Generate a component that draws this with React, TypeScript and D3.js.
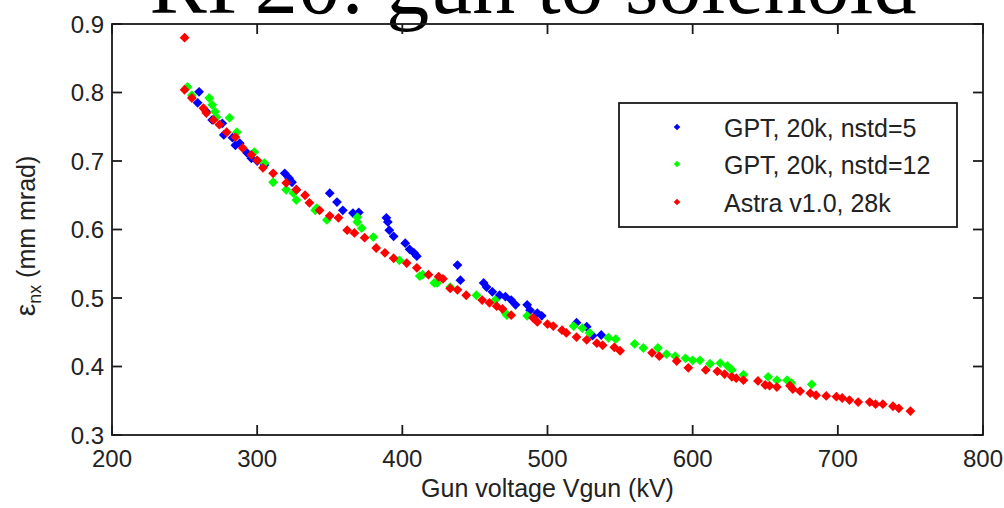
import React from "react";
import * as d3 from "d3";

// Normalized horizontal emittance vs. gun voltage, three simulation runs.
// Each entry: [gun voltage (kV), emittance (mm mrad)]
const gptNstd5: [number, number][] = [
  [259, 0.785], [260, 0.801], [265, 0.772], [269, 0.760], [276, 0.755], [277, 0.738],
  [283, 0.734], [285, 0.723], [288, 0.726], [293, 0.712], [296, 0.704], [300, 0.700],
  [305, 0.694], [319, 0.682], [322, 0.675], [324, 0.669], [327, 0.658], [350, 0.653],
  [355, 0.640], [359, 0.628], [366, 0.624], [370, 0.625], [389, 0.617], [390, 0.611],
  [391, 0.599], [394, 0.590], [402, 0.580], [405, 0.571], [408, 0.566], [410, 0.561],
  [438, 0.548], [440, 0.526], [456, 0.522], [458, 0.516], [462, 0.509], [467, 0.504],
  [471, 0.502], [475, 0.497], [478, 0.490], [486, 0.490], [488, 0.482], [493, 0.478],
  [496, 0.474], [520, 0.464], [527, 0.458], [531, 0.445], [537, 0.446],
];

const gptNstd12: [number, number][] = [
  [252, 0.808], [255, 0.796], [267, 0.792], [269, 0.782], [271, 0.772], [272, 0.764],
  [281, 0.763], [286, 0.742], [298, 0.713], [305, 0.697], [311, 0.669], [320, 0.658],
  [325, 0.653], [327, 0.643], [340, 0.628], [341, 0.631], [348, 0.614], [369, 0.618],
  [369, 0.611], [372, 0.602], [380, 0.589], [398, 0.555], [412, 0.532], [414, 0.534],
  [422, 0.522], [424, 0.522], [433, 0.516], [451, 0.504], [464, 0.497], [471, 0.478],
  [472, 0.475], [486, 0.474], [518, 0.459], [524, 0.456], [529, 0.449], [542, 0.442],
  [547, 0.440], [560, 0.433], [566, 0.427], [576, 0.427], [582, 0.418], [588, 0.415],
  [595, 0.412], [600, 0.409], [605, 0.409], [612, 0.404], [619, 0.405], [624, 0.401],
  [627, 0.395], [635, 0.388], [652, 0.385], [658, 0.380], [665, 0.380], [668, 0.376],
  [682, 0.374],
];

const astra: [number, number][] = [
  [250, 0.880], [250, 0.804], [255, 0.792], [263, 0.777], [265, 0.770], [270, 0.760],
  [274, 0.753], [279, 0.742], [285, 0.735], [290, 0.719], [296, 0.709], [300, 0.701],
  [304, 0.690], [311, 0.682], [320, 0.668], [327, 0.658], [333, 0.650], [336, 0.639],
  [343, 0.628], [350, 0.620], [356, 0.617], [362, 0.599], [367, 0.595], [374, 0.588],
  [382, 0.573], [388, 0.566], [394, 0.558], [403, 0.551], [410, 0.544], [418, 0.534],
  [425, 0.531], [428, 0.528], [433, 0.514], [438, 0.512], [444, 0.504], [455, 0.497],
  [460, 0.493], [465, 0.488], [469, 0.484], [475, 0.475], [490, 0.471], [493, 0.465],
  [500, 0.462], [504, 0.459], [510, 0.453], [513, 0.449], [520, 0.443], [527, 0.439],
  [534, 0.434], [538, 0.431], [546, 0.428], [550, 0.423], [572, 0.420], [577, 0.415],
  [589, 0.408], [597, 0.398], [609, 0.395], [617, 0.393], [622, 0.389], [627, 0.385],
  [630, 0.383], [635, 0.380], [645, 0.379], [650, 0.373], [653, 0.372], [658, 0.370],
  [667, 0.372], [669, 0.367], [674, 0.364], [681, 0.361], [685, 0.358], [692, 0.357],
  [699, 0.356], [703, 0.354], [708, 0.351], [714, 0.348], [722, 0.348], [726, 0.345],
  [731, 0.345], [738, 0.342], [742, 0.339], [750, 0.335],
];

const xTicks = [200, 300, 400, 500, 600, 700, 800];
const yTicks = [0.3, 0.4, 0.5, 0.6, 0.7, 0.8, 0.9];

const seriesNames = ["GPT, 20k, nstd=5", "GPT, 20k, nstd=12", "Astra v1.0, 28k"];
const seriesColors = ["#0000ff", "#00ff00", "#ff0000"];
const seriesData = [gptNstd5, gptNstd12, astra];

const W = 1004;
const H = 508;
const plot = { left: 112, right: 983, top: 24, bottom: 435 };
const TICK = 10;
const sans = "'Liberation Sans', Arial, Helvetica, sans-serif";

export default function App() {
  const x = d3.scaleLinear().domain([200, 800]).range([plot.left, plot.right]);
  const y = d3.scaleLinear().domain([0.3, 0.9]).range([plot.bottom, plot.top]);

  const marker = d3.symbol(d3.symbolSquare, 48)()!;
  const legendMarker = d3.symbol(d3.symbolSquare, 22)()!;

  const fmtY = d3.format(".1f");

  const legend = { x: 619, y: 103, w: 338, h: 124 };
  const legendRows = [127, 164, 202];

  return (
    <svg
      width={W}
      height={H}
      style={{ position: "absolute", left: 0, top: 0, background: "#fff" }}
      xmlns="http://www.w3.org/2000/svg"
    >
      <rect x={0} y={0} width={W} height={H} fill="#fff" />

      {/* title, clipped by the top of the figure */}
      <text
        x={533}
        y={13}
        textAnchor="middle"
        fontFamily="'Liberation Serif', 'Times New Roman', serif"
        fontSize={86}
        fill="#000"
      >
        RF20: gun to solenoid
      </text>

      {/* data markers */}
      <g>
        {seriesData.map((data, si) => (
          <g key={si} fill={seriesColors[si]}>
            {data.map(([v, e], i) => (
              <path
                key={i}
                d={marker}
                transform={`translate(${x(v)},${y(e)}) rotate(45)`}
              />
            ))}
          </g>
        ))}
      </g>

      {/* axes box with inward ticks on all sides */}
      <g stroke="#1a1a1a" strokeWidth={1.8} fill="none">
        <rect
          x={plot.left}
          y={plot.top}
          width={plot.right - plot.left}
          height={plot.bottom - plot.top}
        />
        {xTicks.map((t) => (
          <g key={`xt${t}`}>
            <line x1={x(t)} x2={x(t)} y1={plot.bottom} y2={plot.bottom - TICK} />
            <line x1={x(t)} x2={x(t)} y1={plot.top} y2={plot.top + TICK} />
          </g>
        ))}
        {yTicks.map((t) => (
          <g key={`yt${t}`}>
            <line x1={plot.left} x2={plot.left + TICK} y1={y(t)} y2={y(t)} />
            <line x1={plot.right} x2={plot.right - TICK} y1={y(t)} y2={y(t)} />
          </g>
        ))}
      </g>

      {/* tick labels */}
      <g fontFamily={sans} fontSize={24} fill="#222">
        {xTicks.map((t) => (
          <text key={`xl${t}`} x={x(t)} y={467} textAnchor="middle">
            {t}
          </text>
        ))}
        {yTicks.map((t) => (
          <text
            key={`yl${t}`}
            x={plot.left - 8}
            y={y(t)}
            textAnchor="end"
            dominantBaseline="central"
          >
            {fmtY(t)}
          </text>
        ))}
      </g>

      {/* axis labels */}
      <text
        x={(plot.left + plot.right) / 2}
        y={497}
        textAnchor="middle"
        fontFamily={sans}
        fontSize={25}
        fill="#222"
      >
        Gun voltage Vgun (kV)
      </text>
      <text
        transform={`translate(35,236) rotate(-90)`}
        textAnchor="middle"
        fontFamily={sans}
        fontSize={25}
        fill="#222"
      >
        <tspan fontSize={28}>ε</tspan>
        <tspan fontSize={18} dy={6}>nx</tspan>
        <tspan dy={-6}> (mm mrad)</tspan>
      </text>

      {/* legend */}
      <g>
        <rect
          x={legend.x}
          y={legend.y}
          width={legend.w}
          height={legend.h}
          fill="#fff"
          stroke="#1a1a1a"
          strokeWidth={1.8}
        />
        {seriesNames.map((name, i) => (
          <g key={name}>
            <path
              d={legendMarker}
              fill={seriesColors[i]}
              transform={`translate(677,${legendRows[i]}) rotate(45)`}
            />
            <text
              x={724}
              y={legendRows[i] + 10}
              fontFamily={sans}
              fontSize={25}
              fill="#222"
            >
              {name}
            </text>
          </g>
        ))}
      </g>
    </svg>
  );
}
